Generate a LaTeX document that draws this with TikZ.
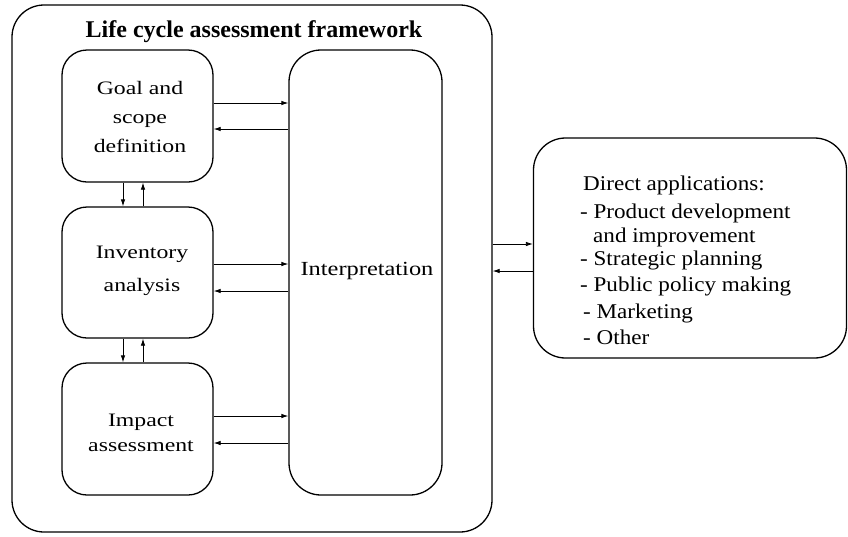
\documentclass[tikz,border=0pt]{standalone}
\usepackage{fontspec}
\setmainfont{Liberation Serif}
\newfontfamily\lfont{Liberation Serif}[FakeStretch=1.25]
\newfontfamily\ifont{Liberation Serif}[FakeStretch=1.22]
\newfontfamily\rfont{Liberation Serif}[FakeStretch=1.1]
\usetikzlibrary{arrows.meta}
\begin{document}
\begin{tikzpicture}[x=1pt,y=-1pt,
  box/.style={draw, line width=1.3pt, rounded corners=#1, inner sep=0pt},
  box/.default=25pt,
  arr/.style={-{Latex[length=7pt,width=4.5pt]}, line width=0.8pt},
  lbl/.style={align=center, font=\lfont\fontsize{19}{#1}\selectfont},
  lbl/.default=29]
\useasboundingbox (0,0) rectangle (848,536);
\node[box=32pt, minimum width=480pt, minimum height=527pt] (outer) at (252,268.5) {};
\node[font=\fontsize{24}{26}\selectfont\bfseries] (title) at (254,32) {Life cycle assessment framework};
\node[box, minimum width=151pt, minimum height=132pt] (goal) at (137.5,116) {};
\node[box, minimum width=151pt, minimum height=131pt] (inv) at (137.5,272.5) {};
\node[box, minimum width=151pt, minimum height=132pt] (imp) at (137.5,429) {};
\node[box=32pt, minimum width=153pt, minimum height=445pt] (interp) at (365.5,272.5) {};
\node[box=32pt, minimum width=313pt, minimum height=220pt] (app) at (690,248) {};
\node[lbl=29] (goalt) at (140,117) {Goal and\\scope\\definition};
\node[lbl=33] (invt) at (142,271) {Inventory\\analysis};
\node[lbl=25] (impt) at (141,433) {Impact\\assessment};
\node[align=center, font=\ifont\fontsize{20}{22}\selectfont] (interpt) at (367,271) {Interpretation};
\node[align=left, anchor=north west, inner sep=0pt, font=\rfont\fontsize{21}{24}\selectfont] (appt) at (580,176)
 {\hspace*{3pt}Direct applications:\\[4pt]
  - Product development\\
  \hspace*{13pt}and improvement\\[-1pt]
  - Strategic planning\\[2pt]
  - Public policy making\\[3pt]
  \hspace*{3pt}- Marketing\\[2pt]
  \hspace*{3pt}- Other};
% arrows to/from interpretation
\draw[arr] (goal.east |- 0,103) -- (interp.west |- 0,103);
\draw[arr] (interp.west |- 0,129) -- (goal.east |- 0,129);
\draw[arr] (inv.east |- 0,264) -- (interp.west |- 0,264);
\draw[arr] (interp.west |- 0,291) -- (inv.east |- 0,291);
\draw[arr] (imp.east |- 0,416) -- (interp.west |- 0,416);
\draw[arr] (interp.west |- 0,443) -- (imp.east |- 0,443);
% vertical arrows
\draw[arr] (goal.south -| 123,0) -- (inv.north -| 123,0);
\draw[arr] (inv.north -| 143,0) -- (goal.south -| 143,0);
\draw[arr] (inv.south -| 123,0) -- (imp.north -| 123,0);
\draw[arr] (imp.north -| 143,0) -- (inv.south -| 143,0);
% to applications
\draw[arr] (outer.east |- 0,244) -- (app.west |- 0,244);
\draw[arr] (app.west |- 0,271) -- (outer.east |- 0,271);
\end{tikzpicture}
\end{document}
